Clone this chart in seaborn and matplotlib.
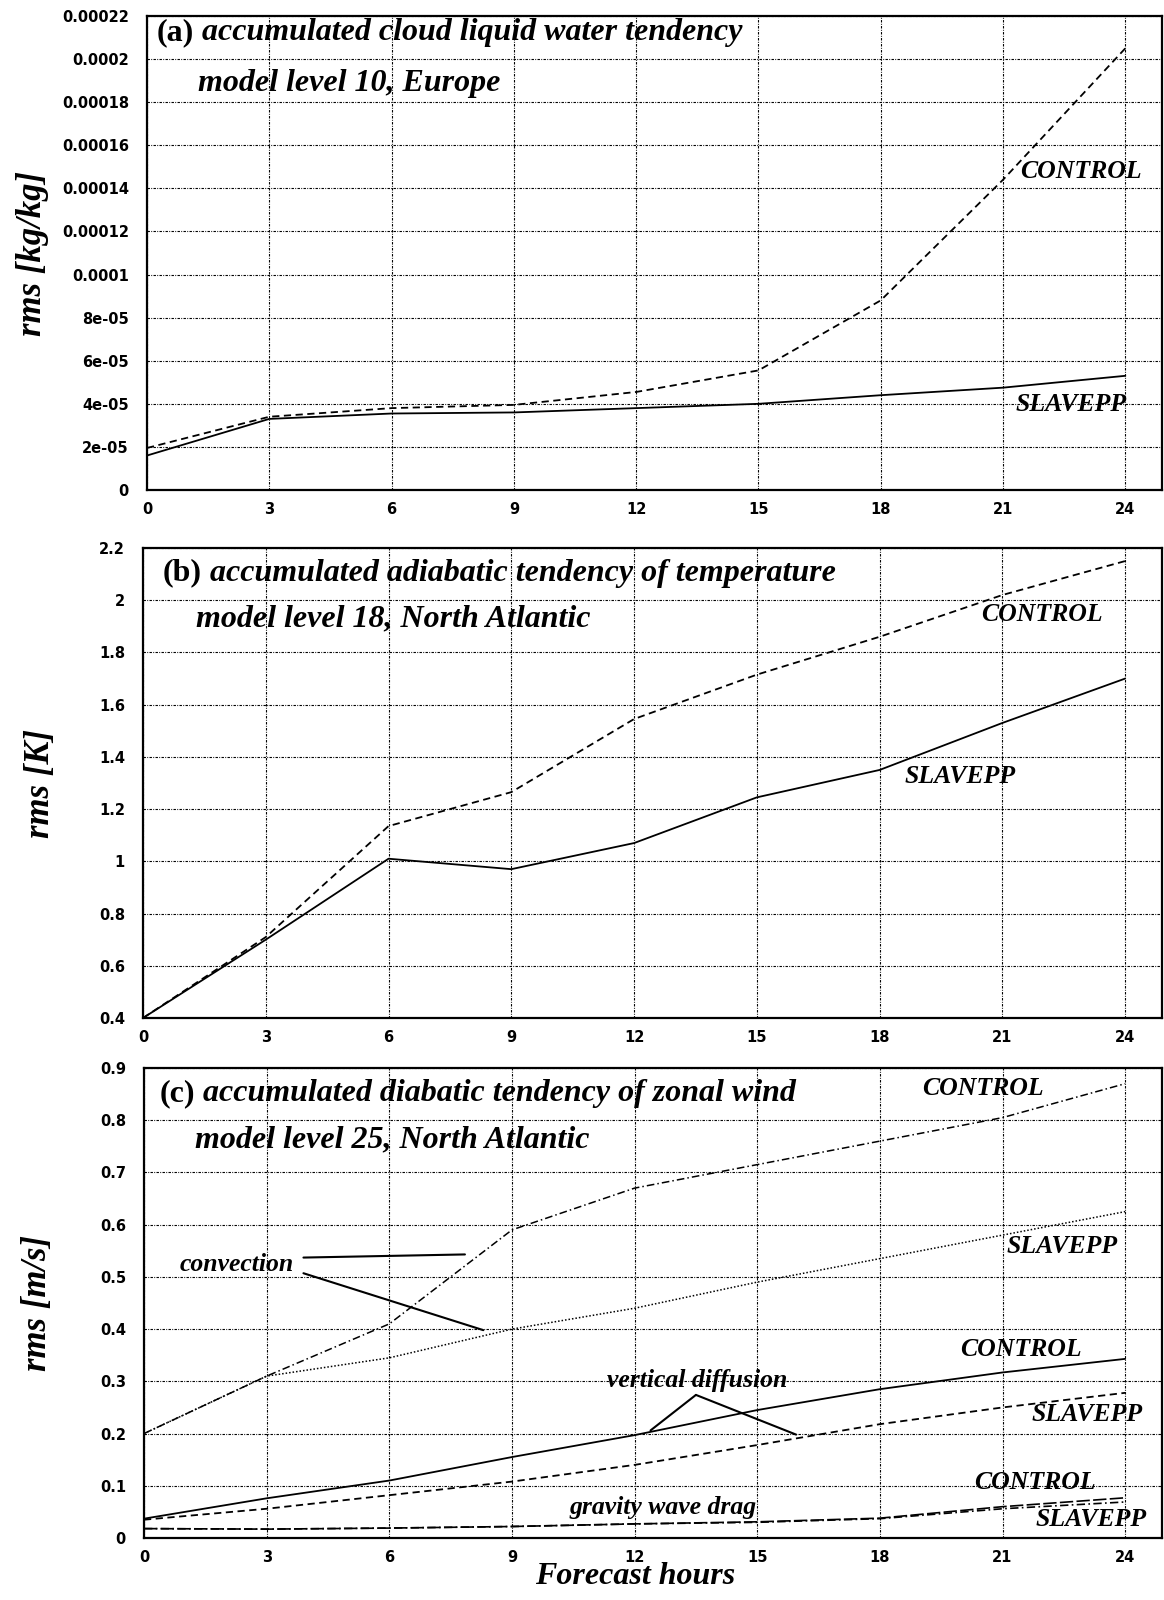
import matplotlib
matplotlib.use("Agg")
import matplotlib.pyplot as plt
import seaborn as sns
import numpy as np
import pandas as pd

# ---- data -------------------------------------------------------------
hours = [0, 3, 6, 9, 12, 15, 18, 21, 24]

# (a) cloud liquid water tendency, level 10, Europe  [kg/kg]
a_control = [1.95e-5, 3.4e-5, 3.8e-5, 3.95e-5, 4.55e-5, 5.55e-5, 8.8e-5, 1.44e-4, 2.05e-4]
a_slavepp = [1.6e-5, 3.3e-5, 3.55e-5, 3.6e-5, 3.8e-5, 4.0e-5, 4.4e-5, 4.75e-5, 5.3e-5]

# (b) adiabatic temperature tendency, level 18, North Atlantic  [K]
b_control = [0.40, 0.71, 1.135, 1.265, 1.545, 1.715, 1.86, 2.02, 2.15]
b_slavepp = [0.40, 0.70, 1.01, 0.97, 1.07, 1.245, 1.35, 1.53, 1.70]

# (c) diabatic zonal wind tendency, level 25, North Atlantic  [m/s]
c_conv_control = [0.20, 0.31, 0.41, 0.59, 0.67, 0.715, 0.76, 0.805, 0.87]
c_conv_slavepp = [0.20, 0.31, 0.345, 0.40, 0.44, 0.49, 0.535, 0.58, 0.625]
c_vdif_control = [0.037, 0.076, 0.11, 0.155, 0.197, 0.245, 0.285, 0.317, 0.343]
c_vdif_slavepp = [0.035, 0.056, 0.082, 0.108, 0.14, 0.178, 0.218, 0.25, 0.278]
c_gwd_control = [0.018, 0.017, 0.019, 0.022, 0.027, 0.031, 0.038, 0.060, 0.077]
c_gwd_slavepp = [0.018, 0.017, 0.019, 0.022, 0.027, 0.030, 0.037, 0.056, 0.069]

a_yticks = [0, 2e-5, 4e-5, 6e-5, 8e-5, 1e-4, 1.2e-4, 1.4e-4, 1.6e-4, 1.8e-4, 2e-4, 2.2e-4]
a_yticklabels = ["0", "2e-05", "4e-05", "6e-05", "8e-05", "0.0001", "0.00012",
                 "0.00014", "0.00016", "0.00018", "0.0002", "0.00022"]
b_yticks = [0.4, 0.6, 0.8, 1.0, 1.2, 1.4, 1.6, 1.8, 2.0, 2.2]
b_yticklabels = ["0.4", "0.6", "0.8", "1", "1.2", "1.4", "1.6", "1.8", "2", "2.2"]
c_yticks = [0, 0.1, 0.2, 0.3, 0.4, 0.5, 0.6, 0.7, 0.8, 0.9]
c_yticklabels = ["0", "0.1", "0.2", "0.3", "0.4", "0.5", "0.6", "0.7", "0.8", "0.9"]

# ---- style ------------------------------------------------------------
sns.set_style("white")
plt.rcParams["font.family"] = ["DejaVu Sans"]
plt.rcParams["text.color"] = "black"
plt.rcParams["axes.labelcolor"] = "black"
plt.rcParams["xtick.color"] = "black"
plt.rcParams["ytick.color"] = "black"

SERIF = ["Liberation Serif", "DejaVu Serif"]
TICKFONT = dict(family="DejaVu Sans", weight="bold", size=10.5, color="black")
LBL = dict(family=SERIF, weight="bold", style="italic", size=18.5, color="black")
TITLE_SIZE = 23

W, H = 1164, 1600
fig = plt.figure(figsize=(W / 100, H / 100), dpi=100)


def rect(l, t, r, b):
    return [l / W, 1 - b / H, (r - l) / W, (b - t) / H]


ax_a = fig.add_axes(rect(147, 16, 1162, 490))
ax_b = fig.add_axes(rect(143, 548, 1162, 1018))
ax_c = fig.add_axes(rect(144, 1068, 1162, 1538))

GRID_LS = (0, (2.2, 1.2, 0.8, 1.2))


def style_axes(ax, yticks, yticklabels, ylim, ylabel, lx):
    ax.set_xlim(0, 24.9)
    ax.set_ylim(*ylim)
    ax.set_xticks(hours)
    ax.set_xticklabels([str(h) for h in hours], fontdict=TICKFONT)
    ax.set_yticks(yticks)
    ax.set_yticklabels(yticklabels, fontdict=TICKFONT)
    ax.tick_params(axis="both", length=0)
    ax.tick_params(axis="y", pad=13)
    ax.tick_params(axis="x", pad=9)
    ax.grid(True, color="black", linestyle=GRID_LS, linewidth=0.8)
    for s in ax.spines.values():
        s.set_color("black")
        s.set_linewidth(1.6)
    ax.set_xlabel("")
    ax.set_ylabel(ylabel, family=SERIF, weight="bold", style="italic", size=25,
                  color="black")
    ax.yaxis.set_label_coords(lx, 0.5)
    if ax.get_legend() is not None:
        ax.get_legend().remove()


def title(ax, x, y1, y2, tag, line1, line2):
    t = ax.text(x[0], y1, tag, family=SERIF, weight="bold", size=TITLE_SIZE,
                va="baseline", ha="left", color="black")
    ax.annotate(" " + line1, xy=(1, 0), xycoords=t, va="bottom", ha="left",
                family=SERIF, weight="bold", style="italic", size=TITLE_SIZE,
                color="black")
    ax.text(x[1], y2, line2, family=SERIF, weight="bold", style="italic",
            size=TITLE_SIZE, va="baseline", ha="left", color="black")


def draw(ax, y, ls, lw=1.3):
    df = pd.DataFrame({"hour": hours, "rms": y})
    sns.lineplot(data=df, x="hour", y="rms", ax=ax, color="black",
                 linestyle="-", linewidth=lw)
    ax.lines[-1].set_linestyle(ls)


# ---- (a) ----
draw(ax_a, a_control, (0, (4, 2.5)))
draw(ax_a, a_slavepp, "-")
style_axes(ax_a, a_yticks, a_yticklabels, (0, 2.2e-4), "rms [kg/kg]", -0.097)
title(ax_a, (0.23, 1.24), 2.088e-4, 1.854e-4, "(a)",
      "accumulated cloud liquid water tendency", "model level 10, Europe")
ax_a.text(21.43, 1.478e-4, "CONTROL", va="center", ha="left", **LBL)
ax_a.text(21.3, 3.95e-5, "SLAVEPP", va="center", ha="left", **LBL)

# ---- (b) ----
draw(ax_b, b_control, (0, (4, 2.5)))
draw(ax_b, b_slavepp, "-")
style_axes(ax_b, b_yticks, b_yticklabels, (0.4, 2.2), "rms [K]", -0.084)
title(ax_b, (0.49, 1.29), 2.075, 1.90, "(b)",
      "accumulated adiabatic tendency of temperature",
      "model level 18, North Atlantic")
ax_b.text(20.47, 1.945, "CONTROL", va="center", ha="left", **LBL)
ax_b.text(18.6, 1.324, "SLAVEPP", va="center", ha="left", **LBL)

# ---- (c) ----
draw(ax_c, c_conv_control, (0, (5, 2, 1, 2)), lw=1.1)
draw(ax_c, c_conv_slavepp, (0, (1, 1.3)), lw=1.1)
draw(ax_c, c_vdif_control, "-")
draw(ax_c, c_vdif_slavepp, (0, (4, 2.5)))
draw(ax_c, c_gwd_control, (0, (8, 2)), lw=1.2)
draw(ax_c, c_gwd_slavepp, (0, (5, 2, 1, 2)), lw=1.2)
style_axes(ax_c, c_yticks, c_yticklabels, (0, 0.9), "rms [m/s]", -0.088)
title(ax_c, (0.37, 1.25), 0.836, 0.748, "(c)",
      "accumulated diabatic tendency of zonal wind",
      "model level 25, North Atlantic")
ax_c.text(19.04, 0.861, "CONTROL", va="center", ha="left", **LBL)
ax_c.text(21.1, 0.558, "SLAVEPP", va="center", ha="left", **LBL)
ax_c.text(19.95, 0.36, "CONTROL", va="center", ha="left", **LBL)
ax_c.text(21.7, 0.237, "SLAVEPP", va="center", ha="left", **LBL)
ax_c.text(20.3, 0.107, "CONTROL", va="center", ha="left", **LBL)
ax_c.text(21.8, 0.036, "SLAVEPP", va="center", ha="left", **LBL)

ax_c.text(0.86, 0.524, "convection", va="center", ha="left", **LBL)
ax_c.text(11.33, 0.302, "vertical diffusion", va="center", ha="left", **LBL)
ax_c.text(10.4, 0.058, "gravity wave drag", va="center", ha="left", **LBL)

# pointer lines from the process labels to their curves
pointer = dict(arrowstyle="-", color="black", lw=1.5, shrinkA=0, shrinkB=0)
ax_c.annotate("", xy=(7.85, 0.543), xytext=(3.9, 0.537), arrowprops=pointer)
ax_c.annotate("", xy=(8.3, 0.398), xytext=(3.9, 0.507), arrowprops=pointer)
ax_c.annotate("", xy=(12.39, 0.206), xytext=(13.5, 0.274), arrowprops=pointer)
ax_c.annotate("", xy=(15.95, 0.198), xytext=(13.5, 0.274), arrowprops=pointer)

fig.text(635 / W, 1 - 1577 / H, "Forecast hours", ha="center", va="center",
         family=SERIF, weight="bold", style="italic", size=23, color="black")

fig.savefig("out.png", dpi=100, facecolor="white")
